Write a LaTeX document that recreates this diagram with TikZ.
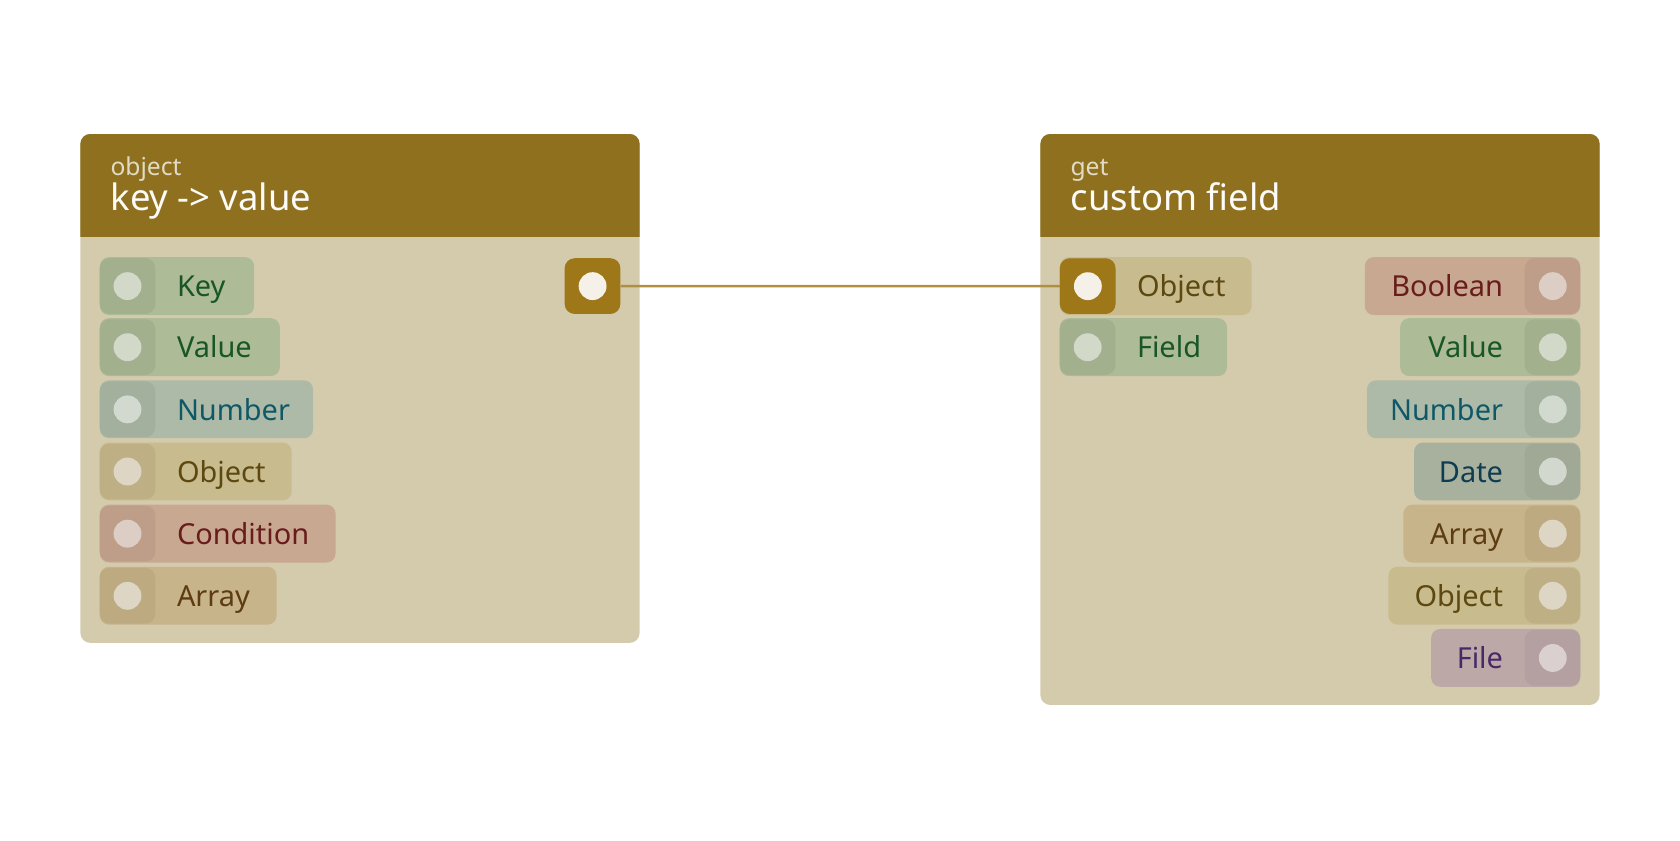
\documentclass[tikz,border=0pt]{standalone}
\usepackage{fontspec}
\setmainfont{Noto Sans}
\usepackage{tikz}

\definecolor{headcol}{RGB}{142,112,30}
\definecolor{bodycol}{RGB}{212,203,173}
\definecolor{wirecol}{RGB}{176,144,64}
\definecolor{portcol}{RGB}{158,120,24}
\definecolor{portdot}{RGB}{246,241,232}
% pill / socket / dot / text per type
\definecolor{grnP}{RGB}{173,187,150}\definecolor{grnS}{RGB}{163,176,142}\definecolor{grnD}{RGB}{210,217,200}\definecolor{grnT}{RGB}{24,86,40}
\definecolor{numP}{RGB}{173,186,168}\definecolor{numS}{RGB}{163,176,158}\definecolor{numD}{RGB}{210,218,208}\definecolor{numT}{RGB}{14,88,104}
\definecolor{objP}{RGB}{200,187,142}\definecolor{objS}{RGB}{190,176,132}\definecolor{objD}{RGB}{222,214,196}\definecolor{objT}{RGB}{92,72,16}
\definecolor{redP}{RGB}{200,168,145}\definecolor{redS}{RGB}{190,158,136}\definecolor{redD}{RGB}{220,206,196}\definecolor{redT}{RGB}{104,28,28}
\definecolor{arrP}{RGB}{200,180,138}\definecolor{arrS}{RGB}{190,170,128}\definecolor{arrD}{RGB}{222,214,196}\definecolor{arrT}{RGB}{92,60,16}
\definecolor{datP}{RGB}{168,176,158}\definecolor{datS}{RGB}{160,168,150}\definecolor{datD}{RGB}{210,216,206}\definecolor{datT}{RGB}{14,60,80}
\definecolor{filP}{RGB}{188,168,166}\definecolor{filS}{RGB}{180,160,160}\definecolor{filD}{RGB}{218,208,208}\definecolor{filT}{RGB}{72,40,104}

\tikzset{
  pill/.style={rounded corners=9pt, minimum height=54, inner sep=0, draw=none},
  sock/.style={rounded corners=10pt, minimum size=52, inner sep=0, draw=none},
  dot/.style={circle, minimum size=26, inner sep=0, draw=none},
  lbl/.style={inner sep=0, font=\fontsize{27}{30}\selectfont},
  subttl/.style={inner sep=0, anchor=base west, text=bodycol!70!white, font=\fontsize{23}{26}\selectfont},
  ttl/.style={inner sep=0, anchor=base west, text=white!92!bodycol, font=\fontsize{34}{38}\selectfont},
}

\begin{document}
\begin{tikzpicture}[x=1pt, y=-1pt, scale=1.0714, transform shape]
  \useasboundingbox[fill=white] (0,0) rectangle (1568,784);

  % object: key -> value
  \begin{scope}
    \clip[rounded corners=10pt] (75,125) rectangle (597,600);
    \fill[bodycol] (75,125) rectangle (597,600);
    \fill[headcol] (75,125) rectangle (597,221);
  \end{scope}
  \node[subttl] (objSub) at (103,164) {object};
  \node[ttl] (objTtl) at (103,196) {key -> value};

  \foreach \y/\w/\c/\t [count=\i] in {267/144/grn/Key, 324/168/grn/Value, 382/199/num/Number,
      440/179/obj/Object, 498/220/red/Condition, 556/165/arr/Array} {
    \node[pill, fill=\c P, minimum width=\w, anchor=west] (kvIn\i) at (93,\y) {};
    \node[sock, fill=\c S] (kvSock\i) at (119,\y) {};
    \node[dot, fill=\c D] (kvDot\i) at (kvSock\i) {};
    \node[lbl, text=\c T, anchor=base west] (kvLbl\i) at (165,\y+10) {\t};
  }
  \node[sock, fill=portcol] (kvOut) at (553,267) {};
  \node[dot, fill=portdot] (kvOutDot) at (kvOut) {};

  % get: custom field
  \begin{scope}
    \clip[rounded corners=10pt] (971,125) rectangle (1493,658);
    \fill[bodycol] (971,125) rectangle (1493,658);
    \fill[headcol] (971,125) rectangle (1493,221);
  \end{scope}
  \node[subttl] (getSub) at (999,164) {get};
  \node[ttl] (getTtl) at (999,196) {custom field};

  \foreach \y/\w/\c/\t [count=\i] in {267/179/obj/Object, 324/156/grn/Field} {
    \node[pill, fill=\c P, minimum width=\w, anchor=west] (cfIn\i) at (989,\y) {};
    \node[sock, fill=\c S] (cfSock\i) at (1015,\y) {};
    \node[dot, fill=\c D] (cfDot\i) at (cfSock\i) {};
    \node[lbl, text=\c T, anchor=base west] (cfLbl\i) at (1061,\y+10) {\t};
  }
  \node[sock, fill=portcol] (cfHot) at (cfSock1) {};
  \node[dot, fill=portdot] (cfHotDot) at (cfHot) {};

  \foreach \y/\w/\c/\t [count=\i] in {267/201/red/Boolean, 324/168/grn/Value, 382/199/num/Number,
      440/155/dat/Date, 498/165/arr/Array, 556/179/obj/Object, 614/139/fil/File} {
    \node[pill, fill=\c P, minimum width=\w, anchor=east] (cfOut\i) at (1475,\y) {};
    \node[sock, fill=\c S] (cfOSock\i) at (1449,\y) {};
    \node[dot, fill=\c D] (cfODot\i) at (cfOSock\i) {};
    \node[lbl, text=\c T, anchor=base east] (cfOLbl\i) at (1403,\y+10) {\t};
  }

  % wire
  \draw[wirecol, line width=2.5pt] (kvOut.east) -- (cfHot.west);
\end{tikzpicture}
\end{document}
